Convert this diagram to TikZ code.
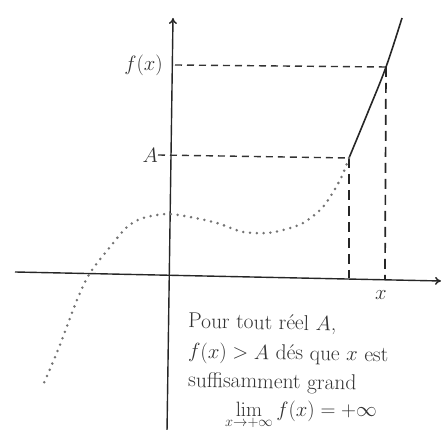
\documentclass[tikz,border=0pt]{standalone}
\usetikzlibrary{arrows.meta}
\begin{document}
\begin{tikzpicture}[x=1pt,y=1pt,
  axisline/.style={line width=1.4pt, draw=black!85, -{To[length=6pt,width=8pt]}},
  hdash/.style={line width=1.4pt, draw=black!80, dash pattern=on 7pt off 5pt},
  vdash/.style={line width=1.7pt, draw=black!85, dash pattern=on 10pt off 6pt},
  dotcurve/.style={line width=2.8pt, draw=black!55, dash pattern=on 0pt off 6.8pt, line cap=round},
  solidcurve/.style={line width=1.6pt, draw=black!85},
  lbl/.style={inner sep=0pt, font=\fontsize{21}{28}\selectfont, text=black!80},
  txt/.style={inner sep=0pt, font=\fontsize{21.5}{30}\selectfont, text=black!80, rotate=-1}]
\useasboundingbox (0,0) rectangle (445,430);
% key points
\coordinate (XL) at (15,158);
\coordinate (XR) at (441,149);
\coordinate (YB) at (167,-2);
\coordinate (YT) at (173,412);
\coordinate (PA) at (349,272);
\coordinate (PF) at (386,363);
\coordinate (PT) at (402,412);
\coordinate (AS) at (158,275);
\coordinate (FS) at (175,365);
\coordinate (FA) at (349,152);
\coordinate (FX) at (385,151);
% axes
\draw[axisline] (XL) -- (XR);
\draw[axisline] (YB) -- (YT);
% dashed guides
\draw[hdash] (AS) -- (PA);
\draw[hdash] (FS) -- (PF);
\draw[vdash] (PA) -- (FA);
\draw[vdash] (PF) -- (FX);
% curve
\draw[solidcurve] plot[smooth, tension=0.6] coordinates {(PA) (368,318) (PF) (PT)};
\draw[dotcurve] plot[smooth] coordinates {(PA) (340,250) (323,223) (303,207) (283,200) (267,197) (243,198) (217,207) (190,213) (167,216) (143,212) (127,203) (110,183) (90,157) (77,130) (58,80) (43,45)};
% labels
\node[lbl, anchor=east] (lf) at (163,365) {$f(x)$};
\node[lbl, anchor=east] (la) at (158,275) {$A$};
\node[lbl] (lx) at (381,135) {$x$};
\node[txt, anchor=base west] (t1) at (188,102) {Pour tout réel $A$,};
\node[txt, anchor=base west] (t2) at (188,72) {$f(x) > A$ dés que $x$ est};
\node[txt, anchor=base west] (t3) at (188,43) {suffisamment grand};
\node[txt, rotate=1, anchor=base] (t4) at (301,13) {$\displaystyle\lim_{x\to+\infty} f(x) = +\infty$};
\end{tikzpicture}
\end{document}
